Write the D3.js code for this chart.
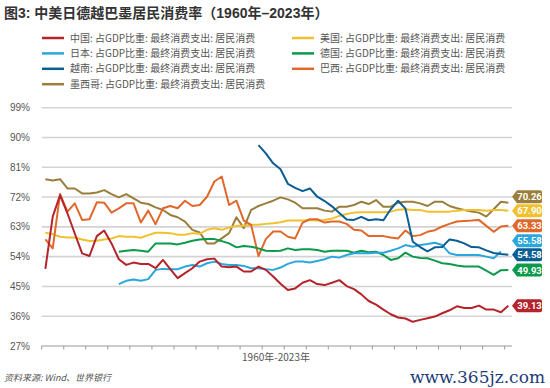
<!DOCTYPE html>
<html>
<head>
<meta charset="utf-8">
<script src="https://cdn.jsdelivr.net/npm/d3@7"></script>
<style>
  body { margin: 0; background: #fff; }
  svg { display: block; font-family: "Noto Sans CJK SC", "Noto Sans", sans-serif; }
</style>
</head>
<body>
<svg id="chart" width="550" height="388"></svg>
<script>
const years = d3.range(1960, 2024);
const yTicks = [27, 36, 45, 54, 63, 72, 81, 90, 99];

// 1960-2023, null where there is no data
const china = [50.3, 66.1, 72.6, 67.1, 61.0, 55.0, 54.2, 60.2, 61.9, 58.0, 53.2, 51.5, 52.2, 51.8, 51.8, 50.5,
  53.0, 50.2, 47.5, 49.0, 50.5, 52.5, 53.2, 53.4, 51.0, 50.8, 51.0, 49.5, 49.5, 51.0, 50.0, 48.0,
  45.8, 43.9, 44.4, 46.1, 46.9, 45.7, 45.4, 46.1, 46.9, 45.1, 44.2, 42.6, 40.6, 39.5, 38.0, 36.6,
  35.6, 35.3, 34.3, 34.9, 35.4, 35.9, 36.9, 37.8, 39.0, 38.5, 38.5, 39.2, 38.0, 38.0, 37.2, 39.13];
const usa = [61.2, 60.8, 60.0, 59.8, 59.8, 59.2, 58.7, 58.8, 59.2, 59.5, 60.2, 60.0, 60.0, 59.7, 60.5, 61.2,
  61.2, 61.1, 60.6, 60.6, 61.1, 60.9, 62.1, 62.6, 62.1, 62.8, 63.3, 63.3, 63.6, 63.6, 63.9, 64.1,
  64.4, 64.9, 64.9, 64.9, 65.1, 64.9, 65.1, 65.5, 66.3, 66.9, 67.3, 67.4, 67.4, 67.4, 67.4, 67.6,
  68.2, 68.3, 68.1, 68.1, 67.6, 67.6, 67.6, 67.6, 67.9, 68.1, 68.1, 68.1, 67.9, 68.1, 68.1, 67.90];
const japan = [null, null, null, null, null, null, null, null, null, null, 45.7, 46.7, 47.1, 46.7, 47.2, 50.0,
  50.3, 50.2, 50.2, 51.0, 51.5, 51.0, 52.0, 52.5, 51.8, 51.5, 51.5, 51.2, 50.5, 50.5, 50.2, 50.0,
  50.7, 51.8, 52.5, 52.5, 52.2, 52.7, 53.2, 54.0, 53.7, 54.5, 55.0, 55.0, 55.0, 55.2, 55.2, 55.8,
  56.5, 57.5, 57.0, 57.5, 57.8, 58.2, 57.5, 55.0, 54.5, 54.5, 54.5, 54.5, 54.0, 53.5, 55.58, null];
const germany = [null, null, null, null, null, null, null, null, null, null, 55.5, 55.8, 56.0, 55.8, 55.5, 58.0,
  58.0, 58.0, 57.7, 58.2, 58.8, 59.2, 59.3, 59.3, 58.7, 58.0, 56.8, 57.2, 57.0, 56.5, 55.8, 55.7,
  55.8, 56.5, 56.0, 56.2, 56.2, 56.0, 55.5, 55.8, 55.8, 55.8, 55.2, 55.8, 55.3, 55.5, 54.5, 53.0,
  53.5, 55.2, 54.0, 53.6, 53.5, 52.8, 52.0, 51.8, 51.3, 51.0, 51.0, 51.0, 49.8, 48.5, 49.9, 49.93];
const vietnam = [null, null, null, null, null, null, null, null, null, null, null, null, null, null, null, null,
  null, null, null, null, null, null, null, null, null, null, null, null, null, 87.7, 85.2, 82.2,
  80.4, 76.0, 74.8, 73.8, 74.6, 72.1, 70.8, 69.2, 67.2, 65.2, 65.1, 66.0, 65.0, 65.3, 65.0, 68.3,
  70.9, 68.5, 58.5, 56.9, 55.6, 56.8, 56.9, 59.2, 58.8, 58.0, 56.9, 56.8, 55.9, 55.1, 54.8, 54.58];
const brazil = [59.2, 56.5, 72.9, 67.6, 70.1, 65.1, 65.3, 70.4, 70.3, 67.3, 68.6, 70.1, 70.1, 64.3, 67.9, 63.8,
  68.6, 69.3, 68.6, 70.9, 69.3, 69.6, 72.1, 76.7, 78.2, 69.6, 70.9, 64.9, 63.6, 54.2, 59.3, 61.6,
  61.6, 60.0, 59.5, 64.3, 65.3, 65.3, 64.3, 64.6, 64.6, 63.9, 62.1, 61.9, 60.2, 60.2, 60.2, 59.8,
  59.5, 61.9, 60.2, 60.5, 61.5, 62.0, 63.1, 63.9, 64.6, 64.8, 64.9, 65.1, 63.3, 61.5, 63.1, 63.33];
const mexico = [77.4, 77.0, 77.4, 74.6, 74.6, 73.1, 73.1, 73.4, 74.1, 72.9, 71.9, 72.9, 71.6, 70.3, 69.9, 68.9,
  68.1, 66.6, 65.9, 64.6, 62.1, 61.3, 58.0, 58.0, 59.5, 61.1, 65.9, 62.6, 68.1, 69.3, 70.1, 70.9,
  71.9, 71.3, 70.3, 68.6, 68.6, 68.6, 67.9, 67.6, 69.1, 69.1, 69.6, 70.6, 69.9, 71.1, 69.1, 69.1,
  70.3, 70.6, 70.6, 70.1, 69.3, 70.6, 70.6, 69.3, 68.6, 68.1, 67.6, 67.3, 66.1, 68.3, 70.6, 70.26];

const suffix = ": 占GDP比重: 最终消费支出: 居民消费";
const series = [
  { name: "中国", values: china, color: "#b5232b" },
  { name: "日本", values: japan, color: "#2aa7dc" },
  { name: "越南", values: vietnam, color: "#0b5d94" },
  { name: "墨西哥", values: mexico, color: "#9a7f3c" },
  { name: "美国", values: usa, color: "#f0c12f" },
  { name: "德国", values: germany, color: "#0c9a4a" },
  { name: "巴西", values: brazil, color: "#e1682a" },
];
// draw order: first listed ends up at the bottom
const drawOrder = ["墨西哥", "美国", "巴西", "德国", "日本", "越南", "中国"];

const svg = d3.select("#chart");
const plotLeft = 41.7, plotRight = 512, plotTop = 107.7, plotBottom = 346;

const x = d3.scaleBand().domain(years).range([plotLeft, plotRight]);
const cx = (yr) => x(yr) + x.bandwidth() / 2;
const y = d3.scaleLinear().domain([27, 99]).range([plotBottom, plotTop]);

// title
svg.append("text")
  .attr("x", 4).attr("y", 18)
  .attr("font-size", 14).attr("font-weight", "bold").attr("fill", "#333")
  .attr("font-family", "'Liberation Sans', 'Noto Sans CJK SC', sans-serif")
  .text("图3: 中美日德越巴墨居民消费率（1960年–2023年）");

// legend, two columns
const legend = svg.append("g").attr("font-size", 10).attr("fill", "#555");
series.forEach((s, i) => {
  const col = i < 4 ? 0 : 1;
  const row = col ? i - 4 : i;
  const lx = col ? 292 : 42;
  const ly = 38 + row * 15.4;
  legend.append("line")
    .attr("x1", lx).attr("x2", lx + 22).attr("y1", ly).attr("y2", ly)
    .attr("stroke", s.color).attr("stroke-width", 2.5);
  legend.append("text")
    .attr("x", lx + 28).attr("y", ly).attr("dy", "0.35em")
    .text(s.name + suffix);
});

// gridlines + y labels
svg.append("g")
  .selectAll("line")
  .data(yTicks.filter((d) => d > 27))
  .join("line")
  .attr("x1", plotLeft).attr("x2", plotRight)
  .attr("y1", (d) => y(d)).attr("y2", (d) => y(d))
  .attr("stroke", "#d3d3d3").attr("stroke-width", 1.6);

svg.append("g")
  .attr("font-size", 10).attr("fill", "#555").attr("text-anchor", "end")
  .attr("font-family", "'Liberation Sans', sans-serif")
  .selectAll("text")
  .data(yTicks)
  .join("text")
  .attr("x", 30).attr("y", (d) => y(d)).attr("dy", "0.35em")
  .text((d) => d + "%");

// x axis: baseline with a tick every 3 categories
svg.append("line")
  .attr("x1", plotLeft).attr("x2", plotRight).attr("y1", plotBottom).attr("y2", plotBottom)
  .attr("stroke", "#999").attr("stroke-width", 1);
svg.append("g")
  .selectAll("line")
  .data(years.filter((d, i) => i % 3 === 0))
  .join("line")
  .attr("x1", (d) => x(d)).attr("x2", (d) => x(d))
  .attr("y1", plotBottom).attr("y2", plotBottom + 3.5)
  .attr("stroke", "#999").attr("stroke-width", 1);

svg.append("text")
  .attr("x", 276).attr("y", 361).attr("text-anchor", "middle")
  .attr("font-size", 10).attr("fill", "#555")
  .text("1960年-2023年");

// lines
const line = d3.line()
  .defined((d) => d != null)
  .x((d, i) => cx(years[i]))
  .y((d) => y(d));

const byName = new Map(series.map((s) => [s.name, s]));
svg.append("g")
  .attr("fill", "none")
  .attr("stroke-width", 2)
  .attr("stroke-linejoin", "round")
  .selectAll("path")
  .data(drawOrder.map((n) => byName.get(n)))
  .join("path")
  .attr("stroke", (d) => d.color)
  .attr("d", (d) => line(d.values));

// end value tags, pushed apart so they don't overlap
const tags = series.map((s) => {
  const last = s.values.filter((v) => v != null).pop();
  return { color: s.color, value: last, ty: y(last) };
}).sort((a, b) => b.ty - a.ty);
for (let i = 1; i < tags.length; i++) {
  tags[i].ty = Math.min(tags[i].ty, tags[i - 1].ty - 14);
}

const tx0 = 512, tx1 = 542, th = 6.5;
const tagG = svg.append("g").selectAll("g").data(tags).join("g");
tagG.append("path")
  .attr("fill", (d) => d.color)
  .attr("d", (d) => {
    const c = d.ty;
    return `M${tx0},${c} L${tx0 + 5},${c - th} L${tx1 - 2},${c - th} Q${tx1},${c - th} ${tx1},${c - th + 2}
      L${tx1},${c + th - 2} Q${tx1},${c + th} ${tx1 - 2},${c + th} L${tx0 + 5},${c + th} Z`;
  });
tagG.append("text")
  .attr("x", (tx0 + 5 + tx1) / 2).attr("y", (d) => d.ty).attr("dy", "0.36em")
  .attr("text-anchor", "middle").attr("font-size", 9.5).attr("font-weight", "bold")
  .attr("fill", "#fff").attr("font-family", "Roboto, 'Noto Sans', sans-serif")
  .text((d) => d.value.toFixed(2));

// footer
svg.append("text")
  .attr("x", 4).attr("y", 381)
  .attr("font-size", 9).attr("font-style", "italic").attr("fill", "#555")
  .text("资料来源: Wind、世界银行");
svg.append("text")
  .attr("x", 545).attr("y", 383).attr("text-anchor", "end")
  .attr("font-size", 17).attr("fill", "#1d3b7a")
  .attr("font-family", "'DejaVu Serif', 'Liberation Serif', serif")
  .text("www.365jz.com");
</script>
</body>
</html>
